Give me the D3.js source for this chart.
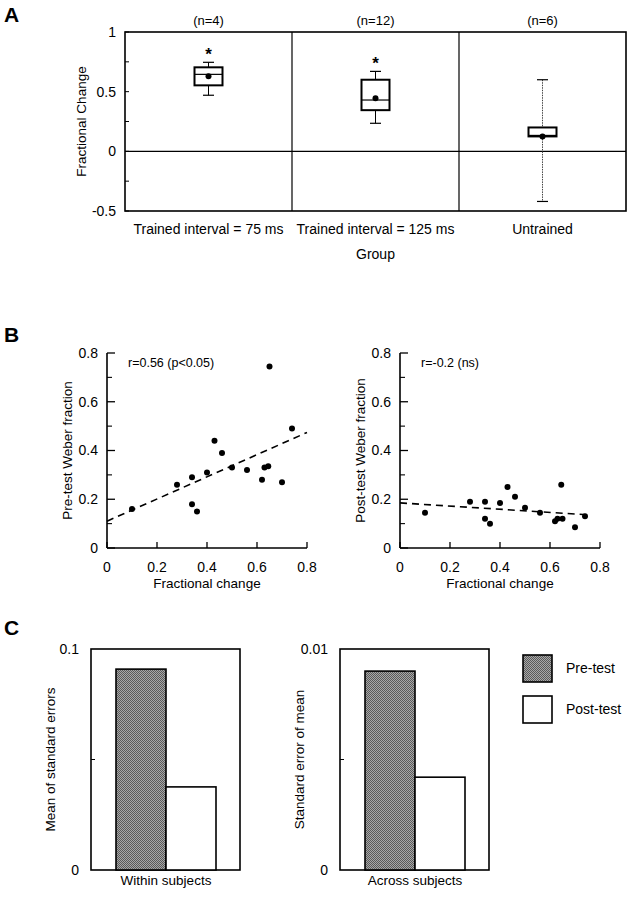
<!DOCTYPE html>
<html>
<head>
<meta charset="utf-8">
<script src="https://cdn.jsdelivr.net/npm/d3@7"></script>
<style>
  html, body { margin: 0; padding: 0; background: #fff; }
  svg { display: block; font-family: "Liberation Sans", Arial, Helvetica, sans-serif; }
</style>
</head>
<body>
<svg id="fig" width="636" height="900"></svg>
<script>
// ---------- DATA ----------
// Panel A: box plots
const groups = ["Trained interval = 75 ms", "Trained interval = 125 ms", "Untrained"];
const nLabels = ["(n=4)", "(n=12)", "(n=6)"];
const boxQ1 = [0.553, 0.345, 0.125];
const boxMedian = [0.645, 0.43, 0.13];
const boxQ3 = [0.704, 0.60, 0.20];
const whiskerLo = [0.47, 0.235, -0.42];
const whiskerHi = [0.746, 0.67, 0.60];
const boxMean = [0.63, 0.445, 0.125];
const significant = [true, true, false];
const aTicks = [1, 0.5, 0, -0.5];
const aMinorTicks = [0.75, 0.25, -0.25];

// Panel B: scatter
const fracChange = [0.10, 0.28, 0.34, 0.34, 0.36, 0.40, 0.43, 0.46, 0.50, 0.56, 0.62, 0.63, 0.645, 0.65, 0.70, 0.74];
const preWeber   = [0.16, 0.26, 0.29, 0.18, 0.15, 0.31, 0.44, 0.39, 0.33, 0.32, 0.28, 0.33, 0.335, 0.745, 0.27, 0.49];
const postWeber  = [0.145, 0.19, 0.19, 0.12, 0.10, 0.185, 0.25, 0.21, 0.165, 0.145, 0.11, 0.12, 0.26, 0.12, 0.085, 0.13];
const preFit = { intercept: 0.11, slope: 0.455, xEnd: 0.8 };
const postFit = { intercept: 0.185, slope: -0.065, xEnd: 0.76 };
const bTicks = [0, 0.2, 0.4, 0.6, 0.8];
const bMinorTicks = [0.1, 0.3, 0.5, 0.7];
const preStat = "r=0.56 (p<0.05)";
const postStat = "r=-0.2 (ns)";

// Panel C: bars
const conditions = ["Pre-test", "Post-test"];
const withinValues = [0.0909, 0.0376];
const acrossValues = [0.0090, 0.0042];
const withinTicks = [0, 0.1];
const acrossTicks = [0, 0.01];

// ---------- DRAW ----------
const svg = d3.select("#fig");
const defs = svg.append("defs");
const pat = defs.append("pattern").attr("id", "hatch").attr("patternUnits", "userSpaceOnUse")
  .attr("width", 2).attr("height", 2);
pat.append("rect").attr("width", 2).attr("height", 2).attr("fill", "#a8a8a8");
pat.append("rect").attr("width", 1).attr("height", 1).attr("fill", "#5a5a5a");
pat.append("rect").attr("x", 1).attr("y", 1).attr("width", 1).attr("height", 1).attr("fill", "#5a5a5a");

const fmtNum = t => String(t);

function panelLetter(t, x, y) {
  svg.append("text").attr("x", x).attr("y", y).attr("font-size", 21).attr("font-weight", "bold").text(t);
}

// ===== Panel A =====
panelLetter("A", 4, 22);
const ay = d3.scaleLinear().domain([-0.5, 1]).range([211, 32]);
const ax = d3.scaleBand().domain(groups).range([125, 626]).padding(0);
const gA = svg.append("g");
gA.append("rect").attr("x", ax.range()[0]).attr("y", ay(1)).attr("width", ax.range()[1] - ax.range()[0])
  .attr("height", ay(-0.5) - ay(1)).attr("fill", "none").attr("stroke", "#000").attr("stroke-width", 1.6);
groups.slice(1).forEach(g => {
  gA.append("line").attr("x1", ax(g)).attr("x2", ax(g)).attr("y1", ay(1)).attr("y2", ay(-0.5))
    .attr("stroke", "#000").attr("stroke-width", 1.2);
});
gA.append("line").attr("x1", ax.range()[0]).attr("x2", ax.range()[1]).attr("y1", ay(0)).attr("y2", ay(0))
  .attr("stroke", "#000").attr("stroke-width", 1.3);
aTicks.concat(aMinorTicks).forEach(t => {
  gA.append("line").attr("x1", ax.range()[0]).attr("x2", ax.range()[0] + 4).attr("y1", ay(t)).attr("y2", ay(t))
    .attr("stroke", "#000").attr("stroke-width", 1);
});
aTicks.forEach(t => {
  gA.append("text").attr("x", 116).attr("y", ay(t)).attr("dy", "0.35em").attr("text-anchor", "end")
    .attr("font-size", 14).text(fmtNum(t));
});
gA.append("text").attr("transform", `translate(86,${(ay(1) + ay(-0.5)) / 2}) rotate(-90)`)
  .attr("text-anchor", "middle").attr("font-size", 13.5).text("Fractional Change");
const bw = 28, cap = 11;
groups.forEach((g, i) => {
  const cx = ax(g) + ax.bandwidth() / 2;
  const dotted = i === 2;
  gA.append("line").attr("x1", cx).attr("x2", cx).attr("y1", ay(whiskerHi[i])).attr("y2", ay(boxQ3[i]))
    .attr("stroke", dotted ? "#444" : "#000").attr("stroke-width", 1).attr("stroke-dasharray", dotted ? "1.5,1" : null);
  gA.append("line").attr("x1", cx).attr("x2", cx).attr("y1", ay(boxQ1[i])).attr("y2", ay(whiskerLo[i]))
    .attr("stroke", dotted ? "#444" : "#000").attr("stroke-width", 1).attr("stroke-dasharray", dotted ? "1.5,1" : null);
  [whiskerHi[i], whiskerLo[i]].forEach(v => {
    gA.append("line").attr("x1", cx - cap / 2).attr("x2", cx + cap / 2).attr("y1", ay(v)).attr("y2", ay(v))
      .attr("stroke", "#000").attr("stroke-width", 1.2);
  });
  gA.append("rect").attr("x", cx - bw / 2).attr("y", ay(boxQ3[i])).attr("width", bw)
    .attr("height", ay(boxQ1[i]) - ay(boxQ3[i])).attr("fill", "#fff").attr("stroke", "#000").attr("stroke-width", 2);
  gA.append("line").attr("x1", cx - bw / 2).attr("x2", cx + bw / 2).attr("y1", ay(boxMedian[i])).attr("y2", ay(boxMedian[i]))
    .attr("stroke", "#000").attr("stroke-width", i === 2 ? 2 : 1.2);
  gA.append("circle").attr("cx", cx).attr("cy", ay(boxMean[i])).attr("r", 3).attr("fill", "#000");
  if (significant[i]) {
    gA.append("text").attr("x", cx).attr("y", ay(whiskerHi[i]) - 2).attr("text-anchor", "middle")
      .attr("font-size", 17).attr("font-weight", "bold").text("*");
  }
  gA.append("text").attr("x", cx).attr("y", 25).attr("text-anchor", "middle").attr("font-size", 13).text(nLabels[i]);
  gA.append("text").attr("x", cx).attr("y", 234).attr("text-anchor", "middle").attr("font-size", 14).text(g);
});
gA.append("text").attr("x", (ax.range()[0] + ax.range()[1]) / 2).attr("y", 259).attr("text-anchor", "middle")
  .attr("font-size", 14).text("Group");

// ===== Panel B =====
panelLetter("B", 4, 342);
function scatter(x0, values, fit, stat, ylabel) {
  const x = d3.scaleLinear().domain([0, 0.8]).range([x0, x0 + 200]);
  const y = d3.scaleLinear().domain([0, 0.8]).range([548, 353]);
  const g = svg.append("g");
  g.append("line").attr("x1", x(0)).attr("x2", x(0)).attr("y1", y(0)).attr("y2", y(0.8)).attr("stroke", "#000").attr("stroke-width", 1.6);
  g.append("line").attr("x1", x(0)).attr("x2", x(0.8)).attr("y1", y(0)).attr("y2", y(0)).attr("stroke", "#000").attr("stroke-width", 1.6);
  bTicks.forEach(t => {
    g.append("line").attr("x1", x(0)).attr("x2", x(0) + 8).attr("y1", y(t)).attr("y2", y(t)).attr("stroke", "#000").attr("stroke-width", 1.3);
    g.append("line").attr("x1", x(t)).attr("x2", x(t)).attr("y1", y(0)).attr("y2", y(0) - 6).attr("stroke", "#000").attr("stroke-width", 1.3);
    g.append("text").attr("x", x(0) - 9).attr("y", y(t)).attr("dy", "0.35em").attr("text-anchor", "end")
      .attr("font-size", 14).text(fmtNum(t));
    g.append("text").attr("x", x(t)).attr("y", 572).attr("text-anchor", "middle").attr("font-size", 14).text(fmtNum(t));
  });
  bMinorTicks.forEach(t => {
    g.append("line").attr("x1", x(0)).attr("x2", x(0) + 5).attr("y1", y(t)).attr("y2", y(t)).attr("stroke", "#000").attr("stroke-width", 1.1);
  });
  g.append("text").attr("x", x(0.4)).attr("y", 588).attr("text-anchor", "middle").attr("font-size", 13.5).text("Fractional change");
  g.append("text").attr("transform", `translate(${x0 - 35},${(y(0) + y(0.8)) / 2}) rotate(-90)`)
    .attr("text-anchor", "middle").attr("font-size", 13.5).text(ylabel);
  g.append("text").attr("x", x(0) + 21).attr("y", 367).attr("font-size", 12.5).text(stat);
  g.append("line").attr("x1", x(0)).attr("y1", y(fit.intercept))
    .attr("x2", x(fit.xEnd)).attr("y2", y(fit.intercept + fit.slope * fit.xEnd))
    .attr("stroke", "#000").attr("stroke-width", 1.6).attr("stroke-dasharray", "7,5");
  g.selectAll("circle.pt").data(fracChange.map((v, i) => [v, values[i]])).enter().append("circle")
    .attr("cx", d => x(d[0])).attr("cy", d => y(d[1])).attr("r", 3).attr("fill", "#000");
}
scatter(107, preWeber, preFit, preStat, "Pre-test Weber fraction");
scatter(400, postWeber, postFit, postStat, "Post-test Weber fraction");

// ===== Panel C =====
panelLetter("C", 4, 635);
function barPanel(x0, values, ticks, ylabel, xlabel) {
  const y = d3.scaleLinear().domain([0, ticks[1]]).range([870, 649]);
  const x = d3.scaleBand().domain(conditions).range([x0 + 25, x0 + 125]).padding(0);
  const g = svg.append("g");
  g.append("rect").attr("x", x0).attr("y", y(ticks[1])).attr("width", 149).attr("height", y(0) - y(ticks[1]))
    .attr("fill", "none").attr("stroke", "#000").attr("stroke-width", 1.6);
  g.append("line").attr("x1", x0).attr("x2", x0 + 4).attr("y1", y(ticks[1] / 2)).attr("y2", y(ticks[1] / 2))
    .attr("stroke", "#000").attr("stroke-width", 1);
  ticks.forEach(t => {
    g.append("text").attr("x", x0 - 12).attr("y", y(t)).attr("dy", "0.35em").attr("text-anchor", "end")
      .attr("font-size", 14).text(fmtNum(t));
  });
  g.selectAll("rect.bar").data(conditions).enter().append("rect")
    .attr("x", d => x(d)).attr("y", (d, i) => y(values[i])).attr("width", x.bandwidth())
    .attr("height", (d, i) => y(0) - y(values[i]))
    .attr("fill", (d, i) => i === 0 ? "url(#hatch)" : "#fff").attr("stroke", "#000").attr("stroke-width", 1.6);
  g.append("text").attr("x", x0 + 75).attr("y", 885).attr("text-anchor", "middle").attr("font-size", 13.5).text(xlabel);
  g.append("text").attr("transform", `translate(${x0 - 36},${(y(0) + y(ticks[1])) / 2}) rotate(-90)`)
    .attr("text-anchor", "middle").attr("font-size", 13.5).text(ylabel);
}
barPanel(91, withinValues, withinTicks, "Mean of standard errors", "Within subjects");
barPanel(340, acrossValues, acrossTicks, "Standard error of mean", "Across subjects");

const leg = svg.append("g");
conditions.forEach((c, i) => {
  const yy = 655 + i * 41;
  leg.append("rect").attr("x", 523).attr("y", yy).attr("width", 29).attr("height", 27)
    .attr("fill", i === 0 ? "url(#hatch)" : "#fff").attr("stroke", "#000").attr("stroke-width", 1.6);
  leg.append("text").attr("x", 566).attr("y", yy + 13.5).attr("dy", "0.35em").attr("font-size", 14).text(c);
});
</script>
</body>
</html>
